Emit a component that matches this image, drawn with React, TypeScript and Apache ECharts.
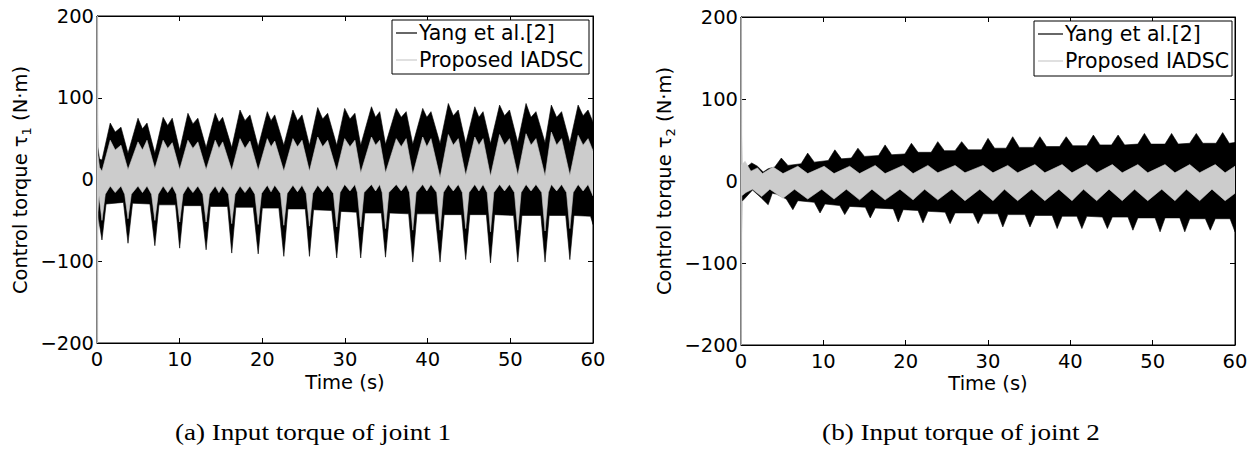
import React, { useEffect, useRef } from 'react';
import * as echarts from 'echarts';

type P = [number, number];

// ---- Joint 1 (left panel): envelopes of the dense torque signals [time s, torque N·m]
const yangUpper1: P[] = [
  [0, 120], [0.1, 40], [0.3, 25], [0.6, 24],
  [1.6, 69], [2.2, 58], [2.9, 64], [3.75, 32],
  [4.96, 75], [5.5, 62], [6.05, 69], [7.0, 32],
  [8.0, 76], [8.55, 66], [9.1, 75], [10.0, 36],
  [11.0, 81], [11.6, 68], [12.2, 75], [13.2, 39],
  [14.3, 81], [14.75, 70], [15.2, 76], [16.3, 39],
  [17.3, 85], [17.9, 72], [18.5, 79], [19.5, 40],
  [20.6, 83], [21.05, 72], [21.5, 79], [22.6, 42],
  [23.7, 85], [24.25, 72], [24.8, 79], [25.7, 42],
  [26.7, 88], [27.3, 74], [27.9, 81], [29.0, 42],
  [29.96, 87], [30.6, 74], [31.2, 81], [31.9, 42],
  [33.2, 89], [33.7, 76], [34.2, 83], [34.9, 43],
  [36.2, 87], [36.8, 76], [37.4, 83], [38.2, 43],
  [39.4, 87], [39.9, 76], [40.4, 83], [41.5, 44],
  [42.5, 93], [43.1, 78], [43.7, 85], [44.6, 44],
  [45.7, 89], [46.2, 76], [46.7, 83], [47.6, 44],
  [48.7, 91], [49.3, 78], [49.9, 85], [50.9, 45],
  [51.9, 93], [52.5, 76], [53.1, 83], [54.2, 45],
  [54.96, 91], [55.6, 76], [56.2, 83], [57.2, 45],
  [58.2, 91], [58.8, 78], [59.4, 85], [60, 70],
];
const yangLower1: P[] = [
  [0, -75], [0.15, -45], [0.3, -55], [0.6, -74], [1.1, -30], [3.2, -28],
  [3.75, -78], [4.3, -29], [6.4, -30], [7.0, -81], [7.5, -31], [9.5, -31],
  [10.0, -84], [10.5, -32], [12.6, -32], [13.2, -86], [13.7, -33], [15.8, -33],
  [16.3, -90], [16.8, -34], [18.9, -34], [19.5, -91], [20.0, -35], [22.0, -35],
  [22.6, -94], [23.1, -36], [25.2, -36], [25.7, -94], [26.2, -37], [28.4, -38],
  [29.0, -96], [29.5, -39], [31.4, -40], [31.9, -96], [32.4, -41], [34.4, -41],
  [34.9, -95], [35.4, -41], [37.7, -42], [38.2, -101], [38.7, -42], [40.9, -42],
  [41.5, -101], [42.0, -43], [44.1, -43], [44.6, -98], [45.1, -43], [47.1, -43],
  [47.6, -102], [48.1, -43], [50.4, -44], [50.9, -101], [51.4, -44], [53.7, -44],
  [54.2, -101], [54.7, -44], [56.7, -44], [57.2, -98], [57.7, -44], [59.7, -45],
  [60, -55],
];
const iadscUpper1: P[] = [
  [0, 200], [0.08, 200], [0.12, 30], [0.3, 15], [0.6, 10],
  [1.6, 48], [2.2, 36], [2.9, 42], [3.75, 12],
  [4.96, 46], [5.5, 36], [6.05, 48], [7.0, 13],
  [8.0, 48], [8.55, 38], [9.1, 45], [10.0, 12],
  [11.0, 48], [11.6, 38], [12.2, 46], [13.2, 12],
  [14.3, 48], [14.75, 38], [15.2, 46], [16.3, 11],
  [17.3, 50], [17.9, 38], [18.5, 47], [19.5, 11],
  [20.6, 50], [21.05, 40], [21.5, 47], [22.6, 10],
  [23.7, 50], [24.25, 40], [24.8, 48], [25.7, 10],
  [26.7, 52], [27.3, 40], [27.9, 48], [29.0, 10],
  [29.96, 50], [30.6, 40], [31.2, 48], [31.9, 8],
  [33.2, 52], [33.7, 42], [34.2, 48], [34.9, 8],
  [36.2, 50], [36.8, 40], [37.4, 50], [38.2, 6],
  [39.4, 52], [39.9, 40], [40.4, 50], [41.5, 2],
  [42.5, 55], [43.1, 42], [43.7, 50], [44.6, 5],
  [45.7, 52], [46.2, 42], [46.7, 50], [47.6, 4],
  [48.7, 55], [49.3, 42], [49.9, 50], [50.9, 5],
  [51.9, 56], [52.5, 42], [53.1, 50], [54.2, 4],
  [54.96, 58], [55.6, 42], [56.2, 50], [57.2, 5],
  [58.2, 54], [58.8, 42], [59.4, 50], [60, 35],
];
const iadscLower1: P[] = [
  [0, -200], [0.08, -200], [0.12, -40], [0.25, -20],
  [0.6, -50], [1.0, -18], [1.6, -8], [2.2, -16], [2.9, -8], [3.35, -18],
  [3.75, -48], [4.15, -18], [4.96, -8], [5.5, -16], [6.05, -8], [6.6, -18],
  [7.0, -50], [7.4, -18], [8.0, -8], [8.55, -16], [9.1, -8], [9.6, -18],
  [10.0, -52], [10.4, -18], [11.0, -8], [11.6, -16], [12.2, -8], [12.8, -18],
  [13.2, -52], [13.6, -18], [14.3, -8], [14.75, -16], [15.2, -8], [15.9, -18],
  [16.3, -54], [16.7, -18], [17.3, -8], [17.9, -16], [18.5, -8], [19.1, -18],
  [19.5, -55], [19.9, -17], [20.6, -7], [21.05, -15], [21.5, -7], [22.2, -17],
  [22.6, -56], [23.0, -17], [23.7, -7], [24.25, -15], [24.8, -7], [25.3, -17],
  [25.7, -57], [26.1, -17], [26.7, -7], [27.3, -15], [27.9, -7], [28.6, -17],
  [29.0, -58], [29.4, -16], [29.96, -6], [30.6, -14], [31.2, -6], [31.5, -16],
  [31.9, -58], [32.3, -16], [33.2, -6], [33.7, -14], [34.2, -6], [34.5, -16],
  [34.9, -60], [35.3, -16], [36.2, -6], [36.8, -14], [37.4, -6], [37.8, -16],
  [38.2, -62], [38.6, -16], [39.4, -6], [39.9, -14], [40.4, -6], [41.1, -16],
  [41.5, -62], [41.9, -16], [42.5, -6], [43.1, -14], [43.7, -6], [44.2, -16],
  [44.6, -60], [45.0, -16], [45.7, -6], [46.2, -14], [46.7, -6], [47.2, -16],
  [47.6, -64], [48.0, -16], [48.7, -6], [49.3, -14], [49.9, -6], [50.5, -16],
  [50.9, -62], [51.3, -16], [51.9, -6], [52.5, -14], [53.1, -6], [53.8, -16],
  [54.2, -63], [54.6, -16], [54.96, -6], [55.6, -14], [56.2, -6], [56.8, -16],
  [57.2, -60], [57.6, -16], [58.2, -6], [58.8, -14], [59.4, -6], [60, -20],
];

// ---- Joint 2 (right panel)
const yangUpper2: P[] = [
  [0, 120], [0.1, 15], [0.4, 12], [0.8, 18], [1.3, 22], [2.0, 18], [2.7, 11], [3.3, 15],
  [4.1, 17], [4.9, 28], [5.7, 19], [7.3, 21], [8.1, 34], [8.9, 23],
  [10.6, 25], [11.4, 38], [12.2, 27], [13.4, 28], [14.2, 40], [15.0, 30],
  [16.7, 31], [17.5, 44], [18.3, 32], [19.9, 33], [20.7, 46], [21.5, 35],
  [23.1, 35], [23.9, 48], [24.7, 37], [26.0, 37], [26.8, 48], [27.6, 38],
  [29.2, 38], [30.0, 52], [30.8, 40], [32.2, 40], [33.0, 54], [33.8, 41],
  [35.5, 41], [36.3, 54], [37.1, 42], [38.7, 42], [39.5, 54], [40.3, 43],
  [42.0, 43], [42.8, 56], [43.6, 44], [45.0, 44], [45.8, 56], [46.6, 44],
  [48.2, 45], [49.0, 58], [49.8, 45], [51.5, 45], [52.3, 58], [53.1, 45],
  [54.5, 46], [55.3, 58], [56.1, 46], [57.7, 46], [58.5, 59], [59.3, 46], [60, 47],
];
const yangLower2: P[] = [
  [0, -128], [0.1, -25], [0.4, -22], [1.4, -11], [2.5, -21], [3.3, -29], [3.8, -15],
  [4.3, -16], [5.5, -22], [6.3, -35], [6.9, -24], [8.9, -26], [9.6, -39], [10.2, -28],
  [12.0, -30], [12.6, -41], [13.2, -31], [15.1, -32], [15.7, -45], [16.3, -33],
  [18.5, -34], [19.1, -50], [19.7, -35], [21.5, -36], [22.1, -51], [22.7, -37],
  [24.8, -38], [25.4, -52], [26.0, -39], [28.2, -39], [28.8, -52], [29.4, -40],
  [31.2, -40], [31.8, -56], [32.4, -41], [34.5, -41], [35.1, -56], [35.7, -42],
  [37.8, -42], [38.4, -58], [39.0, -43], [40.8, -43], [41.4, -58], [42.0, -43],
  [43.9, -44], [44.5, -58], [45.1, -44], [47.0, -44], [47.6, -60], [48.2, -45],
  [50.3, -45], [50.9, -62], [51.5, -45], [53.3, -45], [53.9, -62], [54.5, -46],
  [56.4, -46], [57.0, -60], [57.6, -46], [59.4, -46], [60, -62],
];
const iadscUpper2: P[] = [
  [0, 200], [0.06, 200], [0.1, 20], [0.5, 24], [1.2, 12], [2.0, 16], [2.6, 9],
  [3.9, 17], [5.1, 9], [6.9, 18], [8.1, 9], [10.1, 18], [11.3, 9], [13.2, 18], [14.4, 9],
  [16.3, 19], [17.5, 9], [19.7, 19], [20.9, 9], [22.7, 19], [23.9, 10], [26.0, 19], [27.2, 10],
  [29.4, 19], [30.6, 10], [32.4, 19], [33.6, 10], [35.7, 20], [36.9, 10], [39.0, 20], [40.2, 10],
  [42.0, 20], [43.2, 10], [45.1, 20], [46.3, 10], [48.2, 20], [49.4, 10], [51.5, 20], [52.7, 10],
  [54.5, 20], [55.7, 10], [57.6, 20], [58.8, 10], [60, 18],
];
const iadscLower2: P[] = [
  [0, -200], [0.06, -200], [0.1, -18], [0.6, -14], [1.4, -10], [2.5, -19], [3.5, -10],
  [5.1, -21], [6.5, -10], [8.1, -22], [9.8, -10], [11.3, -22], [12.8, -10], [14.4, -23],
  [15.9, -10], [17.5, -23], [19.3, -10], [20.9, -23], [22.3, -10], [23.9, -23], [25.6, -10],
  [27.2, -24], [29.0, -10], [30.6, -24], [32.0, -10], [33.6, -24], [35.3, -10], [36.9, -24],
  [38.6, -10], [40.2, -24], [41.6, -10], [43.2, -24], [44.7, -10], [46.3, -24], [47.8, -10],
  [49.4, -24], [51.1, -10], [52.7, -24], [54.1, -10], [55.7, -24], [57.2, -10], [58.8, -24],
  [60, -15],
];

const legendNames = ['Yang et al.[2]', 'Proposed IADSC'];
const yTitles = ['1', '2'];
const captions = ['(a) Input torque of joint 1', '(b) Input torque of joint 2'];

const FONT = '"DejaVu Sans", sans-serif';
const SERIF = '"Liberation Serif", "DejaVu Serif", serif';
const BLACK = '#000000';
const GRAY = '#cccccc';

const grids = [
  { left: 97, top: 16, width: 496, height: 327 },
  { left: 741, top: 17, width: 494, height: 328 },
];

function band(upper: P[], lower: P[], color: string, idx: number, name: string) {
  return {
    type: 'custom',
    name,
    xAxisIndex: idx * 2,
    yAxisIndex: idx * 2,
    data: [[0, 0]],
    silent: true,
    clip: true,
    renderItem: (_params: any, api: any) => {
      const pts = upper.map((p) => api.coord(p)).concat(
        lower.slice().reverse().map((p) => api.coord(p))
      );
      return {
        type: 'polygon',
        shape: { points: pts },
        style: { fill: color, stroke: color, lineWidth: 0.6 },
      };
    },
  };
}

function xAxis(gridIndex: number, position: string, showLabel: boolean) {
  return {
    type: 'value',
    gridIndex,
    position,
    min: 0,
    max: 60,
    interval: 10,
    axisLine: { show: true, onZero: false, lineStyle: { color: BLACK, width: 1 } },
    axisTick: { show: true, inside: true, length: 5, lineStyle: { color: BLACK, width: 1 } },
    axisLabel: { show: showLabel, color: BLACK, fontSize: 19.5, fontFamily: FONT, margin: 6 },
    splitLine: { show: false },
  };
}

function yAxis(gridIndex: number, position: string, showLabel: boolean) {
  return {
    type: 'value',
    gridIndex,
    position,
    min: -200,
    max: 200,
    interval: 100,
    axisLine: { show: true, onZero: false, lineStyle: { color: BLACK, width: 1 } },
    axisTick: { show: true, inside: true, length: 5, lineStyle: { color: BLACK, width: 1 } },
    axisLabel: {
      show: showLabel,
      color: BLACK,
      fontSize: 19.5,
      fontFamily: FONT,
      margin: 3,
      showMinLabel: true,
      showMaxLabel: true,
      formatter: (v: number) => (v < 0 ? '\u2212' + Math.abs(v) : String(v)),
    },
    splitLine: { show: false },
  };
}

function legendGraphic(x: number, y: number, w: number, h: number, lineLen: number) {
  const rowY = [y + 13, y + 40];
  const colors = [BLACK, GRAY];
  const els: any[] = [
    {
      type: 'rect',
      z: 100,
      shape: { x, y, width: w, height: h },
      style: { fill: '#ffffff', stroke: BLACK, lineWidth: 1 },
    },
  ];
  legendNames.forEach((name, i) => {
    els.push({
      type: 'line',
      z: 101,
      shape: { x1: x + 4, y1: rowY[i], x2: x + 4 + lineLen, y2: rowY[i] },
      style: { stroke: colors[i], lineWidth: 1.2 },
    });
    els.push({
      type: 'text',
      z: 101,
      x: x + 6 + lineLen,
      y: rowY[i],
      style: {
        text: name,
        fill: BLACK,
        fontSize: 20.5,
        fontFamily: FONT,
        align: 'left',
        verticalAlign: 'middle',
      },
    });
  });
  return els;
}

function yTitle(x: number, y: number, sub: string) {
  return {
    type: 'text',
    z: 50,
    x,
    y,
    rotation: Math.PI / 2,
    style: {
      text: `{a|Control torque \u03c4}{s|${sub}}{a| (N\u00b7m)}`,
      align: 'center',
      verticalAlign: 'middle',
      fill: BLACK,
      rich: {
        a: { fontSize: 19.5, fontFamily: FONT, fill: BLACK, lineHeight: 26 },
        s: { fontSize: 13, fontFamily: FONT, fill: BLACK, lineHeight: 12, verticalAlign: 'bottom' },
      },
    },
  };
}

function plainText(x: number, y: number, text: string, font: string, size: number, scaleX = 1) {
  return {
    type: 'text',
    z: 50,
    x,
    y,
    scaleX,
    style: { text, fill: BLACK, fontSize: size, fontFamily: font, align: 'center', verticalAlign: 'middle' },
  };
}

const option: any = {
  animation: false,
  backgroundColor: '#ffffff',
  grid: grids.map((g) => ({ ...g, show: true, borderColor: BLACK, borderWidth: 1, containLabel: false })),
  xAxis: [xAxis(0, 'bottom', true), xAxis(0, 'top', false), xAxis(1, 'bottom', true), xAxis(1, 'top', false)],
  yAxis: [yAxis(0, 'left', true), yAxis(0, 'right', false), yAxis(1, 'left', true), yAxis(1, 'right', false)],
  series: [
    band(yangUpper1, yangLower1, BLACK, 0, legendNames[0]),
    band(iadscUpper1, iadscLower1, GRAY, 0, legendNames[1]),
    band(yangUpper2, yangLower2, BLACK, 1, legendNames[0]),
    band(iadscUpper2, iadscLower2, GRAY, 1, legendNames[1]),
  ],
  graphic: [
    ...legendGraphic(392, 20, 197, 54, 21),
    ...legendGraphic(1034, 21, 198, 55, 25),
    yTitle(20, 180, yTitles[0]),
    yTitle(664, 181, yTitles[1]),
    plainText(345, 382, 'Time (s)', FONT, 19.5),
    plainText(988, 383, 'Time (s)', FONT, 19.5),
    plainText(313, 432, captions[0], SERIF, 24, 1.13),
    plainText(961, 432, captions[1], SERIF, 24, 1.13),
  ],
};

export default function App() {
  const ref = useRef<HTMLDivElement>(null);
  useEffect(() => {
    document.body.style.margin = '0';
    const chart = echarts.init(ref.current as HTMLDivElement, null, { renderer: 'svg' });
    chart.setOption(option);
    return () => chart.dispose();
  }, []);
  return <div ref={ref} style={{ width: 1259, height: 458 }} />;
}
